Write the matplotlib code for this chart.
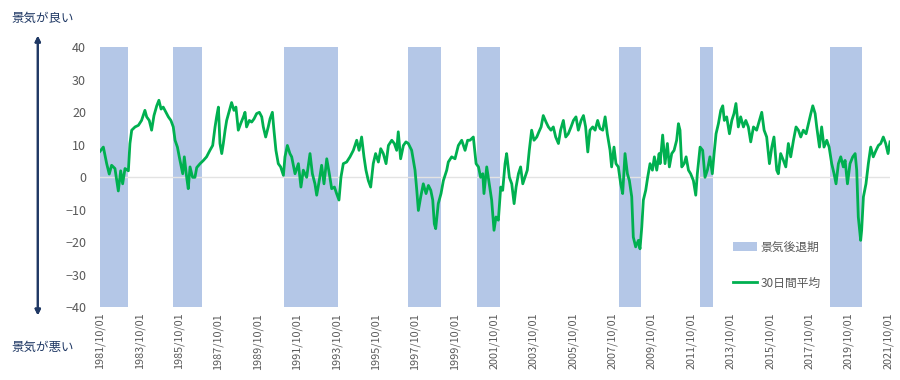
import matplotlib
matplotlib.use("Agg")
import matplotlib.pyplot as plt
from matplotlib.patches import Patch
from matplotlib.lines import Line2D

plt.rcParams['font.family'] = ['Noto Sans CJK JP', 'DejaVu Sans']

# 30-day average (decimal years)
dates = [
    1981.75, 1981.92, 1982.09, 1982.22, 1982.34, 1982.51, 1982.68, 1982.80, 1982.90, 1983.02,
    1983.19, 1983.27, 1983.36, 1983.53, 1983.70, 1983.86, 1984.03, 1984.12, 1984.25, 1984.37,
    1984.49, 1984.63, 1984.74, 1984.85, 1984.96, 1985.10, 1985.22, 1985.35, 1985.47, 1985.56,
    1985.68, 1985.81, 1985.95, 1986.03, 1986.15, 1986.23, 1986.32, 1986.45, 1986.57, 1986.66,
    1986.83, 1987.00, 1987.16, 1987.33, 1987.47, 1987.59, 1987.67, 1987.76, 1987.84, 1987.93,
    1988.01, 1988.10, 1988.18, 1988.32, 1988.43, 1988.55, 1988.65, 1988.77, 1988.89, 1989.03,
    1989.11, 1989.19, 1989.33, 1989.45, 1989.57, 1989.70, 1989.84, 1989.96, 1990.04, 1990.16,
    1990.29, 1990.38, 1990.50, 1990.58, 1990.68, 1990.80, 1990.92, 1991.06, 1991.14, 1991.26,
    1991.39, 1991.48, 1991.65, 1991.82, 1991.95, 1992.07, 1992.24, 1992.41, 1992.53, 1992.66,
    1992.75, 1992.88, 1993.00, 1993.12, 1993.26, 1993.39, 1993.51, 1993.65, 1993.76, 1993.88,
    1993.98, 1994.10, 1994.27, 1994.44, 1994.61, 1994.78, 1994.90, 1995.03, 1995.15, 1995.25,
    1995.37, 1995.49, 1995.62, 1995.74, 1995.88, 1996.00, 1996.13, 1996.27, 1996.39, 1996.56,
    1996.69, 1996.81, 1996.89, 1997.01, 1997.15, 1997.28, 1997.40, 1997.57, 1997.74, 1997.83,
    1997.91, 1998.03, 1998.16, 1998.30, 1998.42, 1998.54, 1998.64, 1998.72, 1998.79, 1998.92,
    1999.06, 1999.18, 1999.35, 1999.43, 1999.60, 1999.77, 1999.94, 2000.11, 2000.28, 2000.41,
    2000.53, 2000.70, 2000.84, 2000.96, 2001.07, 2001.18, 2001.24, 2001.38, 2001.51, 2001.63,
    2001.75, 2001.85, 2001.97, 2002.09, 2002.19, 2002.31, 2002.39, 2002.53, 2002.65, 2002.77,
    2002.87, 2002.99, 2003.10, 2003.21, 2003.32, 2003.44, 2003.54, 2003.66, 2003.78, 2003.92,
    2004.03, 2004.14, 2004.25, 2004.39, 2004.51, 2004.64, 2004.76, 2004.88, 2005.02, 2005.13,
    2005.27, 2005.39, 2005.52, 2005.66, 2005.78, 2005.91, 2006.03, 2006.17, 2006.29, 2006.40,
    2006.51, 2006.62, 2006.76, 2006.88, 2007.01, 2007.13, 2007.27, 2007.39, 2007.50, 2007.64,
    2007.72, 2007.84, 2007.94, 2008.06, 2008.18, 2008.28, 2008.40, 2008.52, 2008.62, 2008.74,
    2008.82, 2008.94, 2009.08, 2009.16, 2009.25, 2009.33, 2009.45, 2009.55, 2009.67, 2009.79,
    2009.89, 2010.01, 2010.13, 2010.18, 2010.31, 2010.43, 2010.55, 2010.65, 2010.77, 2010.89,
    2011.02, 2011.11, 2011.19, 2011.28, 2011.40, 2011.50, 2011.62, 2011.73, 2011.87, 2011.99,
    2012.07, 2012.21, 2012.34, 2012.46, 2012.58, 2012.71, 2012.83, 2012.92, 2013.02, 2013.14,
    2013.26, 2013.36, 2013.44, 2013.56, 2013.70, 2013.82, 2013.93, 2014.03, 2014.15, 2014.27,
    2014.41, 2014.53, 2014.66, 2014.78, 2014.92, 2015.08, 2015.22, 2015.34, 2015.46, 2015.59,
    2015.73, 2015.85, 2015.96, 2016.10, 2016.18, 2016.30, 2016.44, 2016.56, 2016.69, 2016.81,
    2016.95, 2017.08, 2017.20, 2017.32, 2017.45, 2017.59, 2017.71, 2017.83, 2017.93, 2018.05,
    2018.13, 2018.27, 2018.38, 2018.50, 2018.64, 2018.76, 2018.89, 2019.01, 2019.11, 2019.23,
    2019.35, 2019.48, 2019.57, 2019.69, 2019.82, 2019.96, 2020.08, 2020.16, 2020.24, 2020.36,
    2020.41, 2020.50, 2020.63, 2020.75, 2020.87, 2021.00, 2021.14, 2021.26, 2021.38, 2021.51,
    2021.63, 2021.75, 2021.85,
]
avg30 = [
    8, 9.3, 4.2, 1, 3.7, 2.7, -4.2, 2, -2, 2.7,
    2, 10.4, 14.5, 15.5, 16, 17.5, 20.6, 18.6, 17.5, 14.5,
    19, 22, 23.7, 21, 21.6, 20, 18.6, 17.5, 15.5, 11.4,
    9.3, 5.2, 1.1, 6.3, 0, -3.5, 3.2, 0, 0, 3,
    4.2, 5.2, 6.3, 8.3, 9.8, 15.5, 18.6, 21.6, 10.4, 7.3,
    10.4, 14.5, 17.5, 20.6, 23, 20.6, 21.6, 14.5, 16.5, 18.6,
    20, 15.5, 17.5, 17, 18, 19.6, 20, 18.6, 15.5, 12.4,
    15.5, 18, 20, 14.5, 8.3, 4.2, 3.2, 0.6, 6.3, 9.8,
    7.3, 6.3, 1.1, 4.2, -3, 2.2, 0, 7.3, 1.1, -2,
    -5.5, -1, 3.7, -2, 5.7, 1.1, -3.5, -3, -5, -7,
    0, 4.2, 4.7, 6.3, 8.3, 11.4, 8.3, 12.4, 6.3, 2.2,
    -1, -3, 4.2, 7.3, 4.7, 8.8, 7.3, 4.2, 9.8, 11.4,
    10.4, 8.3, 14, 5.7, 9.8, 10.9, 10.4, 8.3, 2.2, -4,
    -10.2, -6, -2, -5, -2.5, -4, -7, -14.3, -15.8, -8.1,
    -5, -1, 2.2, 4.7, 6.3, 5.7, 9.8, 11.4, 8.3, 11.4,
    11.4, 12.4, 4.2, 3.2, 0, 1.1, -5, 3.2, -2, -7,
    -16.3, -12.2, -13.2, -3, -4, 4.2, 7.3, 0, -2, -8.1,
    -3, 1.1, 3.2, -2, 0, 2.2, 8.3, 14.5, 11.4, 12.4,
    14, 15.5, 19, 17, 15.5, 14.5, 15.5, 12.4, 10.4, 14.5,
    17.5, 12.4, 13.4, 15.5, 17.5, 18.6, 14.5, 17.5, 19, 15.5,
    7.8, 14.5, 15.5, 14.5, 17.5, 15, 14.5, 18.6, 13.4, 8.3,
    3.2, 9.3, 4.2, 3.2, -2, -5, 7.3, 1.1, -1, -6,
    -18.4, -21.4, -19.4, -22, -15.3, -7, -4, 0, 4.2, 2.2,
    6.3, 2.2, 7.3, 4.2, 13, 4.2, 10.4, 3.2, 7.3, 8.3,
    11.4, 16.5, 14.5, 3.2, 4.2, 6.3, 2.2, 1.1, -1, -5.5,
    1.1, 9.3, 8.3, 0, 2.2, 6.3, 1.1, 7.3, 13.4, 16.5,
    20.6, 22, 17.5, 18.6, 13.4, 17.5, 19.6, 22.7, 15.5, 18.6,
    15.5, 17.5, 15.5, 10.9, 15.5, 14.5, 17.5, 20, 14.5, 12.4,
    4.2, 9.3, 12.4, 2.2, 1.1, 7.3, 5.2, 3.2, 10.4, 6.3,
    11.4, 15.5, 14.5, 12.4, 14.5, 13.4, 16.5, 19.6, 22, 19.6,
    15.5, 9.3, 15.5, 9.3, 11.4, 9.3, 4.2, 1.1, -2, 4.2,
    6.3, 3.2, 5.2, -2, 4.2, 6.3, 7.3, 2.2, -12.2, -19.4,
    -16.3, -6, -2, 4.2, 9.3, 6.3, 8.3, 9.8, 10.4, 12.4,
    10.4, 7.3, 10.9,
]

# recession periods (start, end) in decimal years
rec_start = [1981.75, 1985.46, 1991.08, 1997.38, 2000.87, 2008.10, 2012.21, 2018.80]
rec_end = [1983.17, 1986.92, 1993.83, 1999.08, 2002.05, 2009.21, 2012.88, 2020.43]

tick_years = list(range(1981, 2022, 2))
tick_labels = [f"{y}/10/01" for y in tick_years]

gray = '#595959'
navy = '#1F3864'

fig = plt.figure(figsize=(9, 3.8), dpi=100)
ax = fig.add_axes([0.1111, 0.1913, 0.8778, 0.6842])

for s, e in zip(rec_start, rec_end):
    ax.axvspan(s, e, color='#B4C7E7', lw=0, zorder=1)
ax.axhline(0, color='#E3E3E3', lw=1, zorder=2)
ax.plot(dates, avg30, color='#00B050', lw=2.0, zorder=3)

ax.set_xlim(1981.75, 2021.85)
ax.set_ylim(-40, 40)
ax.set_yticks(range(-40, 41, 10))
ax.set_xticks([y + 0.75 for y in tick_years])
ax.set_xticklabels(tick_labels, rotation=90, fontsize=7.8, color=gray)
ax.tick_params(axis='y', length=0, pad=10, labelsize=9, labelcolor=gray)
ax.tick_params(axis='x', length=0, pad=4)
for sp in ax.spines.values():
    sp.set_visible(False)

handles = [Patch(facecolor='#B4C7E7', edgecolor='none'),
           Line2D([0], [0], color='#00B050', lw=2.0)]
leg = fig.legend(handles, ['景気後退期', '30日間平均'], loc='upper left',
                 bbox_to_anchor=(0.803, 0.395), frameon=False, fontsize=8.5,
                 labelspacing=1.95, handlelength=2.0, handletextpad=0.3)
for t in leg.get_texts():
    t.set_color(gray)

# good/bad arrow on the left
fig.text(0.048, 0.952, '景気が良い', color=navy, fontsize=9, ha='center', va='center')
fig.text(0.048, 0.087, '景気が悪い', color=navy, fontsize=9, ha='center', va='center')
fig.add_artist(plt.annotate('', xy=(0.042, 0.913), xytext=(0.042, 0.163),
                            xycoords='figure fraction', textcoords='figure fraction',
                            arrowprops=dict(arrowstyle='<|-|>', color=navy, lw=1.5,
                                            mutation_scale=8)))

fig.savefig('out.png', dpi=100)
